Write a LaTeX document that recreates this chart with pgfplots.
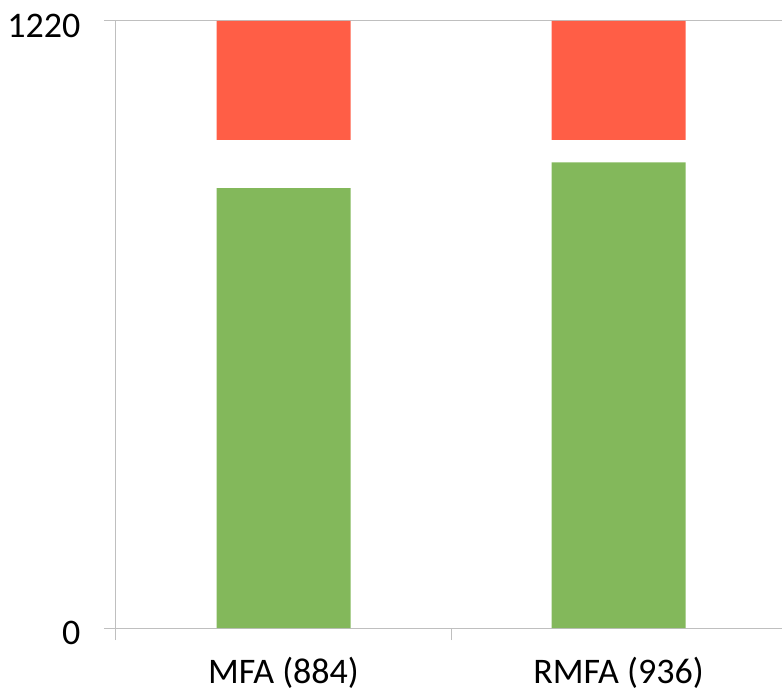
\documentclass[border=0pt]{standalone}
\usepackage{fontspec}
\setmainfont{Carlito}
\usepackage{pgfplots}
\pgfplotsset{compat=1.18}
\definecolor{bargreen}{RGB}{131,184,91}
\definecolor{barred}{RGB}{255,94,70}
\definecolor{axgray}{RGB}{191,191,191}
\begin{document}
\begin{tikzpicture}
\begin{axis}[
  scale only axis,
  width=666pt, height=607pt,
  xmin=-0.5, xmax=1.488,
  ymin=0, ymax=1220,
  ybar stacked,
  bar width=0.4,
  axis x line=bottom, axis y line=left,
  axis line style={-, draw=axgray, line width=1pt},
  ytick={0,1220},
  ymajorgrids, grid style={draw=axgray, line width=1pt},
  xtick={-0.5,0.5,1.5},
  xticklabels={},
  extra x ticks={0,1},
  extra x tick labels={MFA (884), RMFA (936)},
  extra x tick style={major tick length=0pt, grid=none},
  tick align=outside,
  major tick length=12pt,
  tick style={draw=axgray, line width=1pt},
  tick label style={font=\fontsize{36}{42}\selectfont, text=black},
  /pgf/number format/assume math mode=true,
  /pgf/number format/1000 sep={},
  yticklabel style={xshift=-20pt, yshift=-5pt},
  xticklabel style={yshift=-26pt},
  clip=false,
]
\addplot[fill=bargreen, draw=none] coordinates {(0,884) (1,936)};
\addplot[fill=none, draw=none] coordinates {(0,97) (1,45)};
\addplot[fill=barred, draw=none] coordinates {(0,239) (1,239)};
\end{axis}
\pgfresetboundingbox
\path (current axis.south west) ++(-116pt,-68pt) coordinate (bbA);
\path (current axis.north east) ++(0pt,21pt) coordinate (bbB);
\useasboundingbox (bbA) rectangle (bbB);
\end{tikzpicture}
\end{document}
